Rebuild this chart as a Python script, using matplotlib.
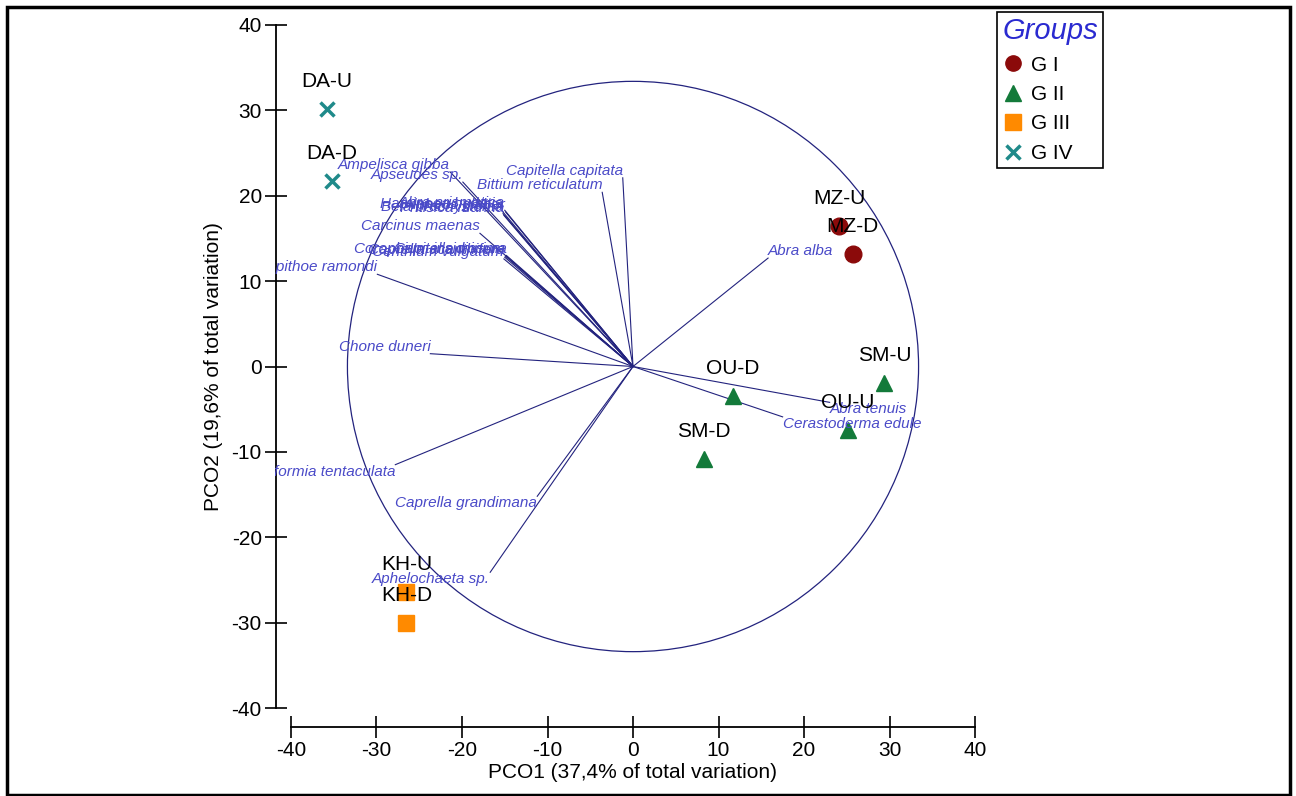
import matplotlib
matplotlib.use("Agg")
import matplotlib.pyplot as plt
from matplotlib.patches import Circle, Rectangle
from matplotlib.lines import Line2D

plt.rcParams['font.family'] = ['Liberation Sans', 'DejaVu Sans']
plt.rcParams['axes.unicode_minus'] = False

# sample scores on PCO1 / PCO2
sites = ["DA-U", "DA-D", "MZ-U", "MZ-D", "SM-U", "OU-U", "OU-D", "SM-D", "KH-U", "KH-D"]
site_group = ["G IV", "G IV", "G I", "G I", "G II", "G II", "G II", "G II", "G III", "G III"]
pco1 = [-35.8, -35.2, 24.1, 25.7, 29.4, 25.1, 11.7, 8.3, -26.5, -26.5]
pco2 = [30.2, 21.7, 16.4, 13.2, -1.9, -7.4, -3.5, -10.8, -26.4, -30.0]

group_names = ["G I", "G II", "G III", "G IV"]
group_marker = {"G I": "o", "G II": "^", "G III": "s", "G IV": "x"}
group_color = {"G I": "#8b0a0a", "G II": "#137a3a", "G III": "#ff8a00", "G IV": "#1f8a8a"}

# species vectors (end points)
species = ["Abra alba", "Abra tenuis", "Cerastoderma edule", "Capitella capitata",
           "Bittium reticulatum", "Ampelisca gibba", "Apseudes sp.",
           "Abra prismatica", "Bela brachystoma", "Alpheus glaber", "Phtisica marina",
           "Haminoea hydatis", "Carcinus maenas",
           "Caprella acanthifera", "Capitella minima", "Cerithium vulgatum",
           "Corophium insidiosum",
           "Ampithoe ramondi", "Chone duneri", "Cirriformia tentaculata",
           "Caprella grandimana", "Aphelochaeta sp."]
vec_x = [15.8, 23.0, 17.5, -1.2, -3.6, -21.4, -19.9,
         -15.0, -15.2, -14.9, -15.1, -15.3, -17.9,
         -15.0, -14.8, -15.1, -14.9,
         -29.9, -23.7, -27.8, -11.2, -16.7]
vec_y = [12.7, -4.2, -5.9, 22.1, 20.4, 22.8, 21.6,
         18.3, 17.9, 18.1, 17.7, 18.2, 15.6,
         12.8, 13.0, 12.6, 12.9,
         10.8, 1.5, -11.5, -15.2, -24.1]
circle_r = 33.4

fig = plt.figure(figsize=(12.96, 7.96), dpi=100)
ax = fig.add_axes([291 / 1296, 1 - 708 / 796, 684 / 1296, 683 / 796])
ax.set_xlim(-40, 40)
ax.set_ylim(-40, 40)

clip = Rectangle((-0.023, -0.03), 1.053, 1.06, transform=ax.transAxes, visible=False)
ax.add_patch(clip)

line_col = "#23237e"
label_col = "#4a4ac8"

ax.add_patch(Circle((0, 0), circle_r, fill=False, edgecolor=line_col, lw=0.9))

for name, x, y in zip(species, vec_x, vec_y):
    ax.plot([0, x], [0, y], color=line_col, lw=0.8)
    t = ax.text(x, y, name, fontsize=11, style='italic', color=label_col,
                ha='left' if x > 0 else 'right', va='bottom' if y > 0 else 'top',
                clip_on=True)
    t.set_clip_path(clip)

for s, g, x, y in zip(sites, site_group, pco1, pco2):
    m = group_marker[g]
    if m == "x":
        ax.plot(x, y, marker=m, color=group_color[g], ms=10, mew=2.5, ls='none')
    else:
        ax.plot(x, y, marker=m, color=group_color[g], ms=12, ls='none')
    ax.annotate(s, (x, y), xytext=(0, 13), textcoords='offset points',
                ha='center', va='bottom', fontsize=15, color='black')

for side in ['top', 'right']:
    ax.spines[side].set_visible(False)
ax.spines['left'].set_position(('outward', 11))
ax.spines['bottom'].set_position(('outward', 14))
for side in ['left', 'bottom']:
    ax.spines[side].set_linewidth(1.3)
ax.set_xticks(range(-40, 41, 10))
ax.set_yticks(range(-40, 41, 10))
ax.tick_params(direction='inout', length=16, width=1.2, labelsize=15, pad=2)
ax.set_xlabel("PCO1 (37,4% of total variation)", fontsize=15, labelpad=2)
ax.set_ylabel("PCO2 (19,6% of total variation)", fontsize=15, labelpad=6)

handles = []
for g in group_names:
    m = group_marker[g]
    handles.append(Line2D([], [], marker=m, color=group_color[g], ls='none',
                          ms=11 if m != "x" else 10, mew=2.5 if m == "x" else 1))
leg = fig.legend(handles, group_names, loc='upper left',
                 bbox_to_anchor=(997 / 1296, 1 - 12 / 796), fontsize=15,
                 title="Groups", title_fontsize=21, fancybox=False, framealpha=1,
                 edgecolor='black', handletextpad=0.4, handlelength=1.0,
                 labelspacing=0.5, borderpad=0.25, borderaxespad=0)
leg.get_frame().set_linewidth(1.2)
leg.get_title().set_color("#2a2ad0")
leg.get_title().set_fontstyle('italic')
leg._legend_box.align = "left"

fig.patches.append(Rectangle((7 / 1296, 1 / 796), 1283 / 1296, 788 / 796, fill=False,
                             edgecolor='black', lw=2.5, transform=fig.transFigure))

fig.savefig("out.png", dpi=100)
